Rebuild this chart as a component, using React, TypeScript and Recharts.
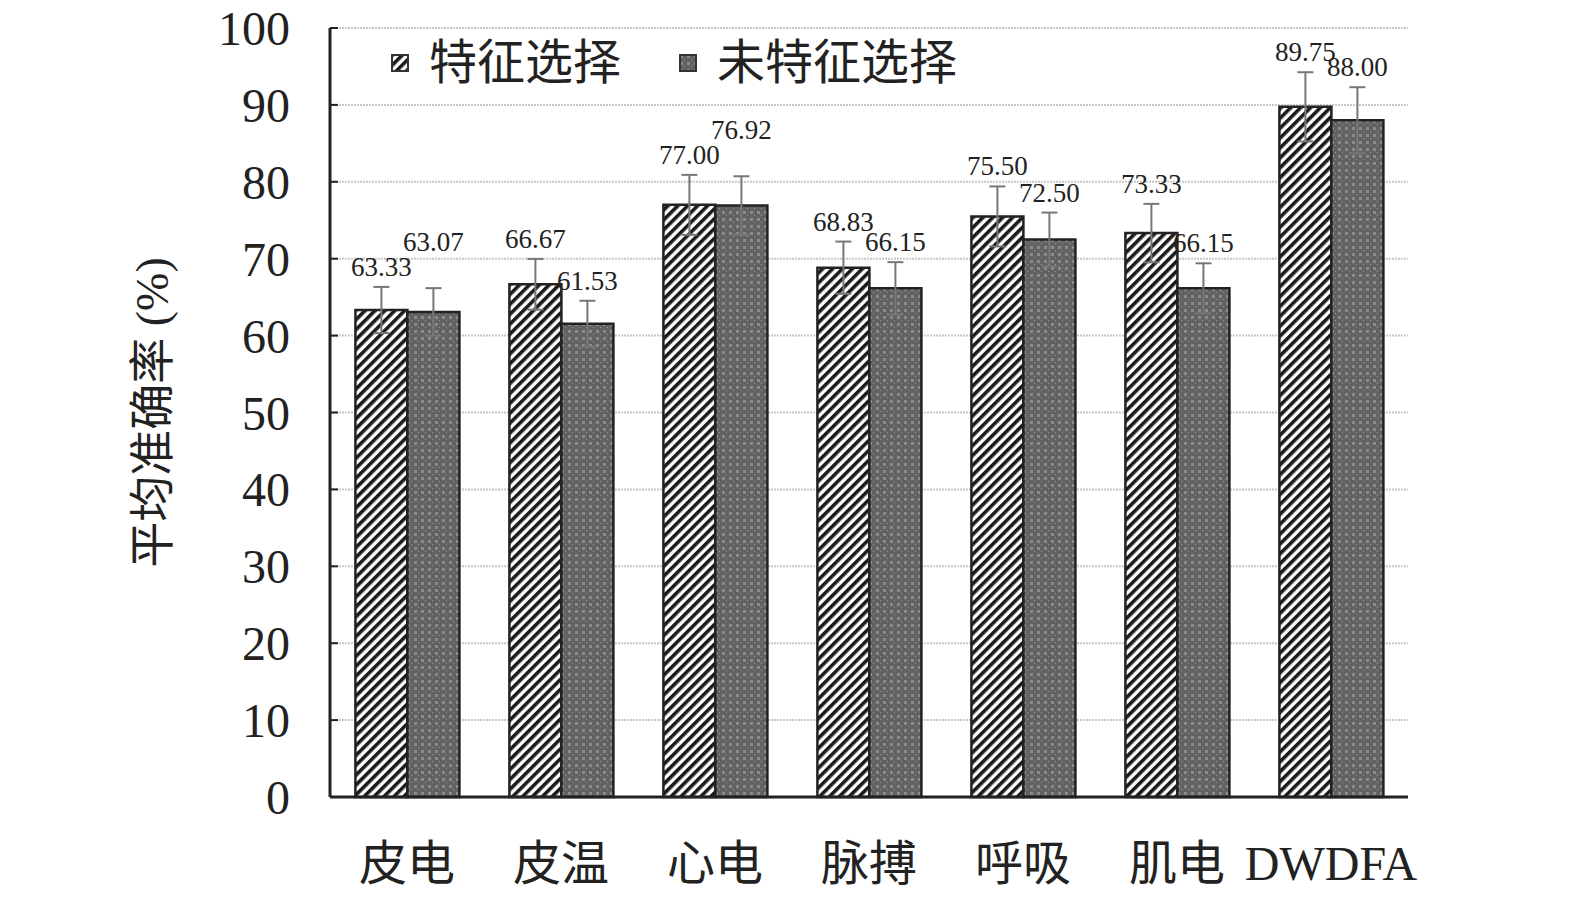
import React from 'react';
import { BarChart, Bar, XAxis, YAxis, CartesianGrid, ErrorBar, LabelList } from 'recharts';

const categories = ['皮电', '皮温', '心电', '脉搏', '呼吸', '肌电', 'DWDFA'];
const withSelection = [63.33, 66.67, 77.0, 68.83, 75.5, 73.33, 89.75];
const withoutSelection = [63.07, 61.53, 76.92, 66.15, 72.5, 66.15, 88.0];
const withSelectionErr = [3.0, 3.3, 3.9, 3.4, 3.9, 3.8, 4.5];
const withoutSelectionErr = [3.1, 3.0, 3.8, 3.4, 3.5, 3.25, 4.3];
const seriesNames = ['特征选择', '未特征选择'];
const yTicks = [0, 10, 20, 30, 40, 50, 60, 70, 80, 90, 100];

const data = categories.map((name, i) => ({
  name,
  sel: withSelection[i],
  selErr: withSelectionErr[i],
  nosel: withoutSelection[i],
  noselErr: withoutSelectionErr[i],
}));

const SERIF = '"Liberation Serif", "Times New Roman", "Noto Sans CJK SC", serif';

const YTick = (props: any) => {
  const { x, y, payload } = props;
  return (
    <g>
      <line x1={x} x2={x + 8} y1={y} y2={y} stroke="#222" strokeWidth={2} />
      <text x={x - 40} y={y + 17} textAnchor="end" fontFamily={SERIF} fontSize={48} fill="#222">
        {payload.value}
      </text>
    </g>
  );
};

const XTick = (props: any) => {
  const { x, y, payload } = props;
  return (
    <text x={x} y={y + 75} textAnchor="middle" fontFamily={SERIF} fontSize={48} fill="#222">
      {payload.value}
    </text>
  );
};

const makeLabel = (errs: number[], other: number[] | null) => (props: any) => {
  const { x, y, width, height, value, index } = props;
  const perUnit = height / value;
  const capY = y - errs[index] * perUnit;
  let base = capY - 11;
  // lift the second label when it would collide with the first one
  if (other && Math.abs(other[index] - value) < 1) base -= 26;
  return (
    <text x={x + width / 2} y={base} textAnchor="middle" fontFamily={SERIF} fontSize={27} fill="#222">
      {Number(value).toFixed(2)}
    </text>
  );
};

const LegendBox = () => {
  const fills = ['url(#stripes)', 'url(#dots)'];
  return (
    <div style={{ position: 'absolute', left: 391, top: 33, display: 'flex', alignItems: 'center' }}>
      {seriesNames.map((label, i) => (
        <div key={label} style={{ display: 'flex', alignItems: 'center', marginRight: 58 }}>
          <svg width={18} height={18} style={{ marginRight: 20 }}>
            <rect x={1} y={1} width={16} height={16} fill={fills[i]} stroke="#333" strokeWidth={2} />
          </svg>
          <span style={{ fontFamily: SERIF, fontSize: 48, color: '#222', lineHeight: '60px' }}>{label}</span>
        </div>
      ))}
    </div>
  );
};

export default function App() {
  return (
    <div style={{ position: 'absolute', left: 0, top: 0, width: 1575, height: 899, background: '#fff', overflow: 'hidden' }}>
      <style>{'html, body { margin: 0; overflow: hidden; }'}</style>
      <BarChart
        width={1575}
        height={899}
        data={data}
        margin={{ top: 28, right: 167, bottom: 42, left: 0 }}
        barCategoryGap="16.5%"
        barGap={0}
      >
        <defs>
          <pattern id="stripes" patternUnits="userSpaceOnUse" width={7} height={7} patternTransform="rotate(45)">
            <rect width={7} height={7} fill="#fff" />
            <rect width={3.6} height={7} fill="#1a1a1a" />
          </pattern>
          <pattern id="dots" patternUnits="userSpaceOnUse" width={7} height={7}>
            <rect width={7} height={7} fill="#626262" />
            <rect x={1} y={1} width={3} height={3} fill="#8a8a8a" />
            <rect x={5} y={5} width={1} height={1} fill="#9a9a9a" />
          </pattern>
        </defs>
        <CartesianGrid horizontal vertical={false} stroke="#c8c8c8" strokeWidth={2} strokeDasharray="2 1" />
        <XAxis
          dataKey="name"
          height={60}
          tickLine={false}
          tick={<XTick />}
          axisLine={{ stroke: '#222', strokeWidth: 3 }}
          interval={0}
        />
        <YAxis
          width={330}
          domain={[0, 100]}
          ticks={yTicks}
          tickSize={0}
          tickMargin={0}
          tick={<YTick />}
          axisLine={{ stroke: '#222', strokeWidth: 3 }}
          label={{
            value: '平均准确率 (%)',
            angle: -90,
            position: 'insideLeft',
            dx: 147,
            style: { textAnchor: 'middle', fontFamily: SERIF, fontSize: 46, fill: '#222' },
          }}
        />
        <Bar dataKey="sel" name={seriesNames[0]} fill="url(#stripes)" stroke="#222" strokeWidth={2.5} isAnimationActive={false}>
          <ErrorBar dataKey="selErr" width={8} stroke="#777" strokeWidth={2} />
          <LabelList dataKey="sel" content={makeLabel(withSelectionErr, null)} />
        </Bar>
        <Bar dataKey="nosel" name={seriesNames[1]} fill="url(#dots)" stroke="#222" strokeWidth={2.5} isAnimationActive={false}>
          <ErrorBar dataKey="noselErr" width={8} stroke="#777" strokeWidth={2} />
          <LabelList dataKey="nosel" content={makeLabel(withoutSelectionErr, withSelection)} />
        </Bar>
      </BarChart>
      <LegendBox />
    </div>
  );
}
